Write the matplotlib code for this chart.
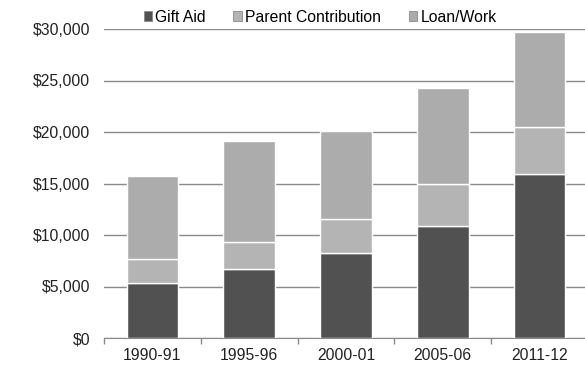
import numpy as np
import matplotlib.pyplot as plt
from matplotlib.ticker import FuncFormatter

plt.rcParams['font.family'] = ['Liberation Sans', 'DejaVu Sans']

# Average cost of attendance split by funding source
years = ['1990-91', '1995-96', '2000-01', '2005-06', '2011-12']
gift_aid = [5300, 6700, 8300, 10900, 15900]
parent_contribution = [2400, 2600, 3300, 4050, 4600]
loan_work = [8000, 9800, 8500, 9350, 9200]

fig = plt.figure(figsize=(5.85, 3.66), dpi=100)
ax = fig.add_axes([104/585, 28/366, 484/585, 309/366])

x = np.arange(len(years))
w = 0.535
gift = np.array(gift_aid)
parent = np.array(parent_contribution)
loan = np.array(loan_work)

ax.bar(x, gift, w, color='#515151', edgecolor='white', lw=1, label='Gift Aid', zorder=3)
ax.bar(x, parent, w, bottom=gift, color='#b4b4b4', edgecolor='white', lw=1,
       label='Parent Contribution', zorder=3)
ax.bar(x, loan, w, bottom=gift + parent, color='#acacac', edgecolor='white', lw=1,
       label='Loan/Work', zorder=3)

ax.set_xlim(-0.5, len(years) - 0.5)
ax.set_ylim(0, 30000)
ax.set_yticks(np.arange(0, 30001, 5000))
ax.yaxis.set_major_formatter(FuncFormatter(lambda v, p: '${:,.0f}'.format(v)))
ax.grid(axis='y', color='#8a8a8a', lw=1, zorder=0)

fs = 11.3
ax.set_xticks(x)
ax.set_xticklabels(years)
ax.set_xticks(np.arange(-0.5, len(years)), minor=True)
ax.tick_params(axis='x', which='major', length=0, pad=7, labelsize=fs, colors='#222222')
ax.tick_params(axis='x', which='minor', length=4, color='#8a8a8a', width=1)
ax.tick_params(axis='y', length=0, pad=10, labelsize=fs, colors='#222222')

for side in ('left', 'right', 'top'):
    ax.spines[side].set_visible(False)
ax.spines['bottom'].set_color('#8a8a8a')

leg = fig.legend(loc='center', bbox_to_anchor=(320/585, 1 - 17/366), ncol=3,
                 frameon=False, fontsize=fs, handlelength=0.55, handleheight=0.55,
                 handletextpad=0.2, columnspacing=1.75, borderpad=0)
for h in leg.legend_handles:
    h.set_edgecolor('#8a8a8a')
    h.set_linewidth(0.6)

fig.savefig('out.png', dpi=100)
